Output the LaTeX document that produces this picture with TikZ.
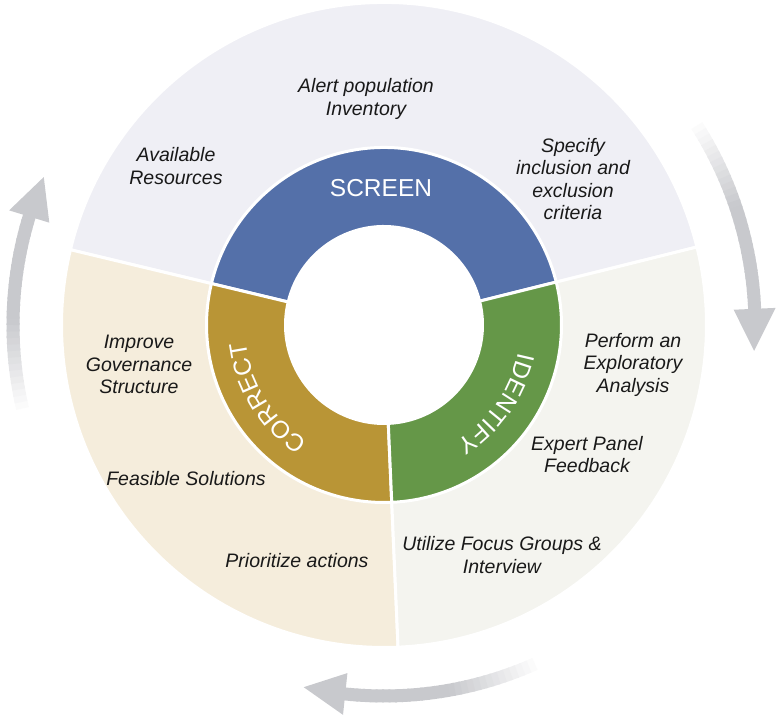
\documentclass[tikz,border=0pt]{standalone}
\usepackage{fontspec}
\setmainfont{Liberation Sans}
\usetikzlibrary{decorations.text}
\definecolor{screenbg}{HTML}{EFEFF5}
\definecolor{correctbg}{HTML}{F5EDDC}
\definecolor{identifybg}{HTML}{F4F4EF}
\definecolor{screenc}{HTML}{5470A9}
\definecolor{correctc}{HTML}{B99536}
\definecolor{identifyc}{HTML}{659748}
\definecolor{arrowgray}{HTML}{C8C9CD}
\newcommand{\phasefont}{\fontsize{24.5}{28}\selectfont}
\begin{document}
\begin{tikzpicture}[x=1pt, y=1pt,
  gap/.style={draw=white, line width=3pt},
  item/.style={font=\itshape\fontsize{19.5}{22.5}\selectfont, align=center, text=black!90}]
\useasboundingbox (-384,-397) rectangle (396,325);

\filldraw[gap, fill=screenbg] (0,0)--(14:322.5) arc[start angle=14, end angle=166.5, radius=322.5]--cycle;
\filldraw[gap, fill=correctbg] (0,0)--(166.5:322.5) arc[start angle=166.5, end angle=272.5, radius=322.5]--cycle;
\filldraw[gap, fill=identifybg] (0,0)--(272.5:322.5) arc[start angle=272.5, end angle=374, radius=322.5]--cycle;

\filldraw[gap, fill=screenc] (14:177.5) arc[start angle=14, end angle=166.5, radius=177.5]--(166.5:98.5) arc[start angle=166.5, end angle=14, radius=98.5]--cycle;
\filldraw[gap, fill=correctc] (166.5:177.5) arc[start angle=166.5, end angle=272.5, radius=177.5]--(272.5:98.5) arc[start angle=272.5, end angle=166.5, radius=98.5]--cycle;
\filldraw[gap, fill=identifyc] (272.5:177.5) arc[start angle=272.5, end angle=374, radius=177.5]--(374:98.5) arc[start angle=374, end angle=272.5, radius=98.5]--cycle;
\fill[white] (0,0) circle (98.5);

\node[font=\phasefont, text=white] (screen) at (-3,137) {SCREEN};
\path[decorate, decoration={text along path, text={|\phasefont|CORRECT}, text color=white, text align=center}]
  (236.7:139) arc[start angle=236.7, end angle=186.8, radius=139];
\path[decorate, decoration={text along path, text={|\phasefont|IDENTIFY}, text color=white, text align=center}]
  (-11.6:137) arc[start angle=-11.6, end angle=-58.4, radius=137];

\node[item] (alert) at (-18,226) {Alert population\\Inventory};
\node[item] (avail) at (-208,159) {Available\\Resources};
\node[item] (specify) at (189,146) {Specify\\inclusion and\\exclusion\\criteria};
\node[item] (perform) at (249,-39.5) {Perform an\\Exploratory\\Analysis};
\node[item] (expert) at (203,-129.5) {Expert Panel\\Feedback};
\node[item] (utilize) at (118,-230) {Utilize Focus Groups \&\\Interview};
\node[item] (improve) at (-245,-39.5) {Improve\\Governance\\Structure};
\node[item] (feasible) at (-198,-154) {Feasible Solutions};
\node[item] (prioritize) at (-87,-236) {Prioritize actions};

\foreach \t in {33.5,-65,194}{
  \foreach \k in {0,...,30}{
    \pgfmathsetmacro{\tone}{min(100,\k*7)}
    \draw[line width=13pt, arrowgray!\tone!white] (\t-\k:371) arc[start angle=\t-\k, end angle=\t-\k-1.3, radius=371];
  }
  \fill[arrowgray] (\t-31:350) -- (\t-37.5:371) -- (\t-31:392) -- cycle;
}
\end{tikzpicture}
\end{document}
